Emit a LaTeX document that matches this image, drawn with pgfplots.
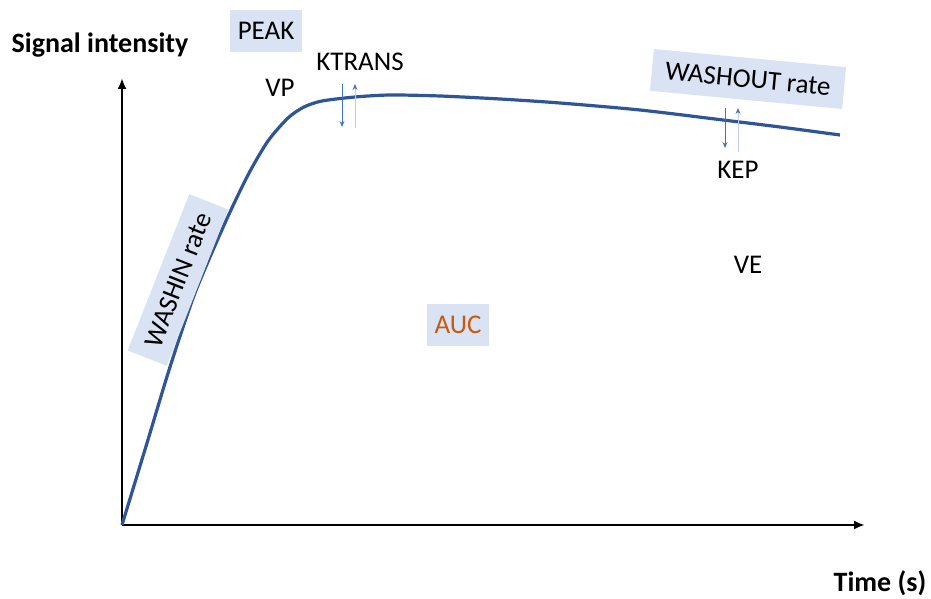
\documentclass[border=0pt]{standalone}
\usepackage{pgfplots}
\pgfplotsset{compat=1.18}
\usepackage{fontspec}
\setmainfont{Carlito}
\usetikzlibrary{arrows.meta}
\definecolor{curve}{HTML}{2F5597}
\definecolor{boxfill}{HTML}{DAE3F3}
\definecolor{arr}{HTML}{4472C4}
\definecolor{auc}{HTML}{C55A11}
\tikzset{
  txt/.style={font=\fontsize{27}{32}\selectfont},
  box/.style={txt, fill=boxfill, inner xsep=8pt, minimum height=42pt},
  ttl/.style={font=\fontsize{28}{33}\selectfont\bfseries},
}
\begin{document}
\begin{tikzpicture}
\begin{axis}[
  scale only axis,
  width=743pt, height=447pt,
  xmin=0, xmax=743, ymin=0, ymax=447,
  axis lines=left,
  axis line style={line width=2.6pt, -{Latex[length=11pt,width=9pt]}},
  xtick=\empty, ytick=\empty,
  clip=false,
]
% signal curve (pixels from origin)
\addplot[curve, line width=3.2pt, smooth, tension=0.45] coordinates {
  (0,0) (25,82) (48,158) (73,232) (103,302) (126,350) (146,384)
  (166,407) (182,418) (200,424) (233,428) (268,430) (318,429)
  (378,426) (438,422) (518,415) (601,405) (658,398) (718,390)
};
% small exchange arrows
\addplot[arr, line width=0.8pt, -{Stealth[length=6pt,width=5pt]}] coordinates {(220,441) (220,398)};
\addplot[arr!35, line width=0.8pt, -{Stealth[length=6pt,width=5pt,color=arr]}] coordinates {(233,397) (233,441)};
\addplot[arr, line width=0.8pt, -{Stealth[length=6pt,width=5pt]}] coordinates {(603,417) (603,377)};
\addplot[arr!35, line width=0.8pt, -{Stealth[length=6pt,width=5pt,color=arr]}] coordinates {(616,373) (616,417)};

\node[ttl] at (axis cs:-22,480) {Signal intensity};
\node[ttl] at (axis cs:758,-58) {Time (s)};
\node[box] at (axis cs:144,494) {PEAK};
\node[txt] at (axis cs:158,437) {VP};
\node[txt] at (axis cs:238,463) {KTRANS};
\node[box, rotate=-5.4, minimum width=193pt] at (axis cs:626,446) {WASHOUT rate};
\node[txt] at (axis cs:616,355) {KEP};
\node[txt] at (axis cs:626,260) {VE};
\node[box, text=auc] at (axis cs:336,200) {AUC};
\node[box, rotate=68.5, minimum width=168pt] at (axis cs:56,245) {WASHIN rate};

\coordinate (bl) at (axis cs:-122,-74);
\coordinate (tr) at (axis cs:809,525);
\end{axis}
\pgfresetboundingbox
\path (bl) rectangle (tr);
\end{tikzpicture}
\end{document}
